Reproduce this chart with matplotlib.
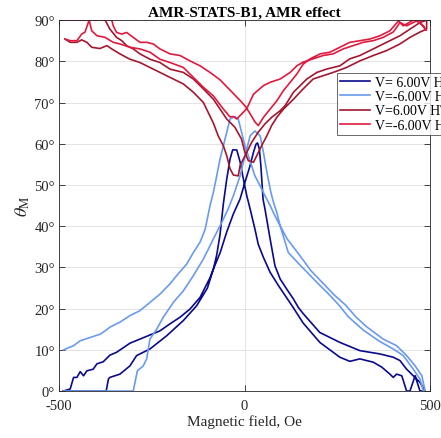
import matplotlib
matplotlib.use("Agg")
import matplotlib.pyplot as plt

plt.rcParams['font.family'] = ['Liberation Serif', 'DejaVu Serif']
plt.rcParams['mathtext.fontset'] = 'stix'

# V= 6.00V HL (dark blue)
hl_pos_a_x = [-489, -373, -367, -363, -336, -309, -291, -255, -210, -165, -129, -100, -84, -75, -66, -57, -48, -39, -32, -21, -12, -3, 6, 15, 28, 37, 51, 69, 92, 110, 128, 158, 203, 230, 257, 284, 311, 329, 347, 370, 392, 401, 410, 424, 437, 446, 460, 473]
hl_pos_a_y = [0, 0, 2.9, 3.3, 4.1, 6.1, 8.6, 10.2, 13.4, 17.1, 20.7, 25.0, 29.6, 33.0, 38.0, 45.5, 51.4, 56.3, 58.5, 58.5, 55.6, 51.4, 47.4, 44.2, 39.3, 35.6, 32.4, 28.8, 25.5, 23.1, 20.7, 16.5, 11.8, 10.0, 8.2, 7.2, 7.8, 7.4, 7.0, 5.8, 4.1, 3.3, 4.1, 3.7, 0, 0, 3.7, 0]
hl_pos_b_x = [-488, -470, -461, -452, -443, -434, -425, -408, -398, -381, -363, -345, -309, -282, -255, -228, -201, -174, -147, -120, -93, -84, -66, -48, -30, -12, 1, 15, 24, 31, 35, 40, 44, 47, 50, 55, 69, 82, 96, 114, 132, 145, 158, 203, 257, 311, 338, 365, 383, 401, 419, 437, 455, 473, 487]
hl_pos_b_y = [0, 0.5, 3.3, 3.3, 4.7, 3.7, 4.9, 5.3, 6.6, 7.1, 8.7, 9.4, 11.6, 12.6, 13.6, 14.6, 16.3, 17.9, 19.9, 22.7, 27.5, 29.6, 33.5, 38.6, 43.0, 46.6, 50.6, 54.7, 57.9, 59.9, 60.2, 58.7, 54.7, 50.6, 46.5, 44.2, 36.9, 30.4, 27.2, 24.7, 22.3, 20.3, 18.8, 14.2, 11.8, 9.8, 9.4, 9.0, 8.6, 8.2, 7.4, 5.3, 3.7, 2.1, 0]

# V=-6.00V HL (light blue)
hl_neg_a_x = [-488, -461, -443, -416, -389, -376, -363, -336, -309, -282, -255, -228, -201, -183, -156, -138, -120, -106, -93, -84, -75, -66, -57, -48, -39, -26, -17, -8, 1, 10, 19, 28, 42, 55, 69, 82, 96, 115, 148, 179, 210, 242, 273, 300, 329, 374, 410, 437, 460, 478, 487]
hl_neg_a_y = [10.0, 11.0, 12.2, 13.0, 13.8, 14.6, 15.5, 16.7, 18.3, 19.5, 21.5, 23.5, 26.0, 28.0, 30.8, 33.6, 36.1, 39.3, 45.0, 48.2, 52.2, 56.3, 59.5, 62.8, 66.0, 66.6, 66.0, 62.8, 59.5, 57.1, 54.7, 52.2, 49.8, 47.4, 45.0, 42.5, 40.1, 36.9, 33.0, 29.2, 26.3, 23.3, 20.8, 18.0, 15.6, 12.6, 11.0, 8.6, 6.1, 3.7, 0]
hl_neg_b_x = [-489, -300, -289, -273, -264, -255, -237, -219, -192, -165, -138, -111, -84, -57, -44, -30, -21, -12, -3, 6, 15, 28, 42, 51, 57, 64, 71, 78, 87, 96, 118, 145, 172, 199, 226, 253, 280, 320, 365, 401, 428, 455, 473, 482]
hl_neg_b_y = [0, 0, 4.9, 6.1, 7.8, 12.6, 15.0, 17.9, 21.5, 24.3, 28.0, 32.0, 36.9, 41.7, 44.2, 47.4, 49.8, 52.2, 55.5, 58.7, 61.9, 63.1, 61.9, 57.9, 54.7, 51.4, 48.2, 45.8, 43.3, 40.1, 33.6, 31.0, 28.5, 26.0, 23.6, 21.0, 18.0, 14.8, 12.0, 10.2, 8.6, 5.3, 2.9, 0]

# V=6.00V HT (dark red)
ht_pos_a_x = [-484, -470, -452, -439, -425, -412, -390, -371, -358, -336, -309, -282, -255, -228, -192, -165, -138, -111, -84, -71, -57, -48, -39, -30, -17, -12, 6, 19, 37, 55, 73, 96, 109, 132, 168, 195, 221, 257, 284, 311, 338, 365, 392, 419, 446, 473, 491]
ht_pos_a_y = [85.4, 84.6, 84.6, 85.2, 84.6, 83.4, 83.1, 83.8, 83.0, 81.8, 80.5, 79.7, 78.5, 77.3, 75.7, 74.5, 72.5, 70.0, 65.0, 61.9, 59.5, 57.1, 53.9, 52.4, 52.2, 54.7, 57.9, 60.3, 62.8, 64.8, 66.4, 68.0, 69.2, 72.5, 75.7, 77.3, 78.1, 78.9, 80.6, 81.4, 82.6, 83.8, 85.0, 86.2, 87.8, 89.4, 90]
ht_pos_b_x = [-484, -376, -363, -345, -331, -318, -300, -282, -255, -228, -201, -165, -138, -111, -84, -66, -48, -26, -8, 1, 10, 24, 33, 46, 60, 73, 87, 105, 132, 158, 185, 212, 239, 275, 311, 347, 383, 419, 446, 473, 491]
ht_pos_b_y = [90, 90, 87.8, 85.8, 85.0, 83.8, 83.0, 81.8, 80.5, 79.7, 78.1, 77.3, 75.7, 73.3, 70.8, 68.4, 66.0, 64.0, 61.1, 57.9, 55.9, 55.5, 57.1, 59.5, 61.9, 64.4, 66.4, 68.4, 70.8, 73.3, 75.7, 76.5, 77.3, 78.5, 80.1, 81.4, 82.6, 84.2, 85.8, 87.1, 87.8]

# V=-6.00V HT (red)
ht_neg_a_x = [-484, -470, -452, -439, -430, -419, -412, -398, -376, -354, -336, -309, -282, -255, -228, -201, -165, -138, -111, -84, -57, -39, -30, -21, -8, 6, 24, 51, 69, 96, 123, 141, 158, 185, 212, 239, 266, 293, 320, 347, 374, 401, 419, 437, 464, 482, 490]
ht_neg_a_y = [85.4, 85.0, 85.0, 86.6, 87.1, 90, 87.4, 86.2, 85.8, 84.6, 84.2, 83.4, 83.0, 82.2, 80.5, 79.7, 78.5, 76.1, 73.7, 71.6, 68.4, 66.5, 66.6, 66.0, 67.2, 68.5, 72.0, 74.1, 74.9, 75.7, 77.3, 78.9, 79.8, 80.6, 81.4, 81.8, 83.0, 83.8, 84.6, 85.0, 85.8, 87.1, 89.4, 88.6, 89.8, 88.6, 87.5]
ht_neg_b_x = [-484, -358, -354, -345, -331, -318, -300, -282, -264, -246, -228, -201, -174, -147, -120, -93, -66, -39, -12, 1, 15, 28, 37, 51, 69, 87, 105, 123, 141, 158, 177, 204, 230, 257, 284, 311, 338, 365, 392, 415, 428, 455, 470, 487]
ht_neg_b_y = [90, 90, 88.6, 87.0, 86.6, 87.0, 85.8, 84.6, 84.6, 84.2, 83.0, 81.8, 81.4, 80.1, 78.9, 77.3, 75.5, 73.0, 70.5, 69.2, 67.3, 65.3, 64.4, 66.4, 68.4, 70.4, 72.9, 74.9, 76.9, 79.3, 80.6, 81.8, 82.2, 83.4, 84.6, 85.0, 85.4, 86.2, 87.4, 89.8, 88.6, 90, 90, 87.8]

labels = ['V= 6.00V HL', 'V=-6.00V HL', 'V=6.00V HT', 'V=-6.00V HT']
colors = ['#0a0a8c', '#6a9bec', '#a3172f', '#e01a3f']
series = [
    (hl_pos_a_x, hl_pos_a_y, hl_pos_b_x, hl_pos_b_y),
    (hl_neg_a_x, hl_neg_a_y, hl_neg_b_x, hl_neg_b_y),
    (ht_pos_a_x, ht_pos_a_y, ht_pos_b_x, ht_pos_b_y),
    (ht_neg_a_x, ht_neg_a_y, ht_neg_b_x, ht_neg_b_y),
]

fig = plt.figure(figsize=(4.41, 4.39), dpi=100)
ax = fig.add_axes([0.134, 0.107, 0.841, 0.845])

for (ax_, ay_, bx_, by_), lab, col in zip(series, labels, colors):
    # one sweep up, then back down
    xs = ax_ + bx_[::-1]
    ys = ay_ + by_[::-1]
    ax.plot(xs, ys, color=col, lw=1.2, label=lab)

ax.set_xlim(-500, 500)
ax.set_ylim(0, 90)
ax.set_xticks([-500, 0, 500])
ax.set_xticklabels(['-500', '0', '500'])
ax.set_yticks(range(0, 91, 10))
ax.set_yticklabels(['%d°' % v for v in range(0, 91, 10)])
ax.grid(True, color='#e3e3e3', lw=0.7)
ax.set_axisbelow(True)
ax.tick_params(direction='in', top=True, right=True, length=4, width=0.6,
               colors='#262626', labelsize=10.5, pad=3)
ax.tick_params(axis='x', pad=6)
for s in ax.spines.values():
    s.set_color('#262626')
    s.set_linewidth(0.6)

ax.set_title('AMR-STATS-B1, AMR effect', fontsize=11, fontweight='bold', pad=3)
ax.set_xlabel('Magnetic field, Oe', fontsize=11, color='#262626', labelpad=1)
ax.set_ylabel(r'$\theta_{\mathrm{M}}$', fontsize=13, color='#262626', labelpad=2)

leg = ax.legend(loc='upper left', bbox_to_anchor=(0.749, 0.858), fontsize=10,
                frameon=True, fancybox=False, edgecolor='#262626',
                handlelength=2.15, handletextpad=0.35, labelspacing=0.08,
                borderpad=0.25, borderaxespad=0)
leg.get_frame().set_linewidth(0.6)

fig.savefig('out.png', dpi=100)
